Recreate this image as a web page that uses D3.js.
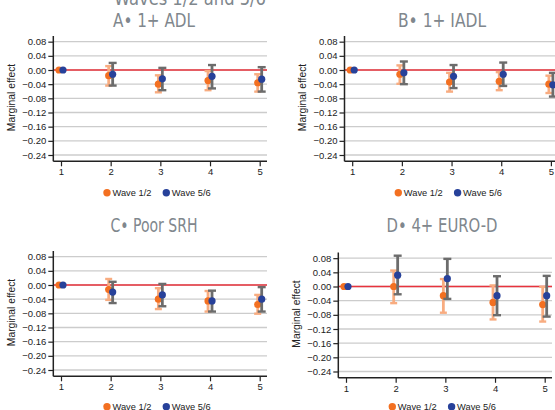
<!DOCTYPE html>
<html>
<head>
<meta charset="utf-8">
<script src="https://cdn.jsdelivr.net/npm/d3@7"></script>
<style>
  body { margin: 0; background: #ffffff; }
  svg { display: block; }
  .tick_label { font-family: "Liberation Sans", Arial, sans-serif; font-size: 9.5px; fill: #222222; }
  .panel_title { font-family: "DejaVu Sans Condensed", "DejaVu Sans", sans-serif; font-stretch: condensed; font-size: 19.5px; fill: #80878d; }
</style>
</head>
<body>
<div id="chart"></div>
<script>

// Chart values
var categories = [1, 2, 3, 4, 5];
var panelTitles = ["A\u2022 1+ ADL", "B\u2022 1+ IADL", "C\u2022 Poor SRH", "D\u2022 4+ EURO-D"];
var seriesNames = ["Wave 1/2", "Wave 5/6"];
var yTickValues = [0.08, 0.04, 0.00, -0.04, -0.08, -0.12, -0.16, -0.20, -0.24];

// Wave 1/2 estimates and confidence limits, one row per panel (A, B, C, D)
var wave12Est = [
    [0, -0.016, -0.040, -0.030, -0.036],
    [0, -0.012, -0.034, -0.032, -0.040],
    [0, -0.013, -0.040, -0.045, -0.055],
    [0,  0.000, -0.026, -0.045, -0.051]
];
var wave12Lo = [
    [null, -0.044, -0.063, -0.057, -0.061],
    [null, -0.039, -0.061, -0.057, -0.065],
    [null, -0.042, -0.068, -0.075, -0.081],
    [null, -0.047, -0.074, -0.093, -0.099]
];
var wave12Hi = [
    [null,  0.011, -0.015, -0.003, -0.012],
    [null,  0.013, -0.008, -0.006, -0.016],
    [null,  0.017, -0.009, -0.017, -0.028],
    [null,  0.045,  0.021,  0.003, -0.001]
];

// Wave 5/6 estimates and confidence limits
var wave56Est = [
    [0, -0.012, -0.025, -0.018, -0.026],
    [0, -0.008, -0.018, -0.012, -0.042],
    [0, -0.020, -0.028, -0.045, -0.040],
    [0,  0.032,  0.022, -0.026, -0.026]
];
var wave56Lo = [
    [null, -0.044, -0.057, -0.052, -0.061],
    [null, -0.040, -0.051, -0.045, -0.075],
    [null, -0.051, -0.060, -0.075, -0.075],
    [null, -0.022, -0.035, -0.081, -0.085]
];
var wave56Hi = [
    [null,  0.020,  0.006,  0.014,  0.008],
    [null,  0.024,  0.014,  0.021, -0.008],
    [null,  0.009,  0.003, -0.016, -0.006],
    [null,  0.087,  0.078,  0.029,  0.030]
];

var colors = {
    wave12: "#f37021",
    wave12bar: "#f8ac80",
    wave56: "#27419a",
    wave56bar: "#6c6c6c",
    zero: "#e8333c",
    grid: "#cccccc",
    axis: "#222222"
};

// Panel placement: left axis x, top of y axis, title centre / baseline, legend row
var panelLayout = [
    { axisX: 53.3,  top: 36,    titleX: 154, titleY: 26.7,  titleW: 82, legendX: 107,   legendY: 192.7 },
    { axisX: 344.5, top: 36,    titleX: 442, titleY: 27,    titleW: 88, legendX: 398.3, legendY: 192.7 },
    { axisX: 53.3,  top: 251,   titleX: 154, titleY: 231.7, titleW: 87, legendX: 107,   legendY: 406.7 },
    { axisX: 338.3, top: 252.5, titleX: 442, titleY: 232.3, titleW: 111, legendX: 392.3, legendY: 406.7 }
];

var width = 555, height = 410;
var plotW = 213.7, plotH = 125.3;
var xOff = 0.04;   // horizontal dodge between the two waves

var svg = d3.select("#chart").append("svg")
            .attr("width", width)
            .attr("height", height);

// Cut-off heading that sits above the panels
svg.append("text")
   .attr("class", "panel_title")
   .attr("x", 190)
   .attr("y", 5)
   .attr("text-anchor", "middle")
   .attr("textLength", 152)
   .attr("lengthAdjust", "spacingAndGlyphs")
   .text("Waves 1/2 and 5/6");

function drawPanel(p){

    var lay = panelLayout[p];
    var g = svg.append("g");

    var x = d3.scaleLinear().domain([0.845, 5.147]).range([lay.axisX, lay.axisX + plotW]);
    var y = d3.scaleLinear().domain([-0.2578, 0.096]).range([lay.top + plotH, lay.top]);

    // Title
    g.append("text")
     .attr("class", "panel_title")
     .attr("x", lay.titleX)
     .attr("y", lay.titleY)
     .attr("text-anchor", "middle")
     .attr("textLength", lay.titleW)
     .attr("lengthAdjust", "spacingAndGlyphs")
     .text(panelTitles[p]);

    // Gridlines
    g.selectAll(".grid_line")
     .data(yTickValues)
     .enter().append("line")
     .attr("class", "grid_line")
     .attr("x1", lay.axisX)
     .attr("x2", lay.axisX + plotW)
     .attr("y1", function(d){ return y(d); })
     .attr("y2", function(d){ return y(d); })
     .attr("stroke", colors.grid)
     .attr("stroke-width", 1.4);

    // Reference line at zero
    g.append("line")
     .attr("x1", lay.axisX)
     .attr("x2", lay.axisX + plotW)
     .attr("y1", y(0))
     .attr("y2", y(0))
     .attr("stroke", colors.zero)
     .attr("stroke-width", 1.4);

    // Axes
    var yAxis = d3.axisLeft(y).tickValues(yTickValues).tickFormat(d3.format(".2f")).tickSize(5).tickPadding(2);
    var xAxis = d3.axisBottom(x).tickValues(categories).tickFormat(d3.format("d")).tickSize(5).tickPadding(2);

    var yg = g.append("g").attr("transform", "translate(" + lay.axisX + ",0)").call(yAxis);
    var xg = g.append("g").attr("transform", "translate(0," + (lay.top + plotH) + ")").call(xAxis);

    [yg, xg].forEach(function(ax){
        ax.select(".domain").attr("stroke", colors.axis).attr("stroke-width", 1.5);
        ax.selectAll(".tick line").attr("stroke", colors.axis).attr("stroke-width", 1.2);
        ax.selectAll(".tick text").attr("class", "tick_label").attr("font-family", null).attr("font-size", null);
    });
    yg.select(".domain").attr("d", "M0," + (lay.top + plotH) + "V" + lay.top);
    xg.select(".domain").attr("d", "M" + lay.axisX + ",0H" + (lay.axisX + plotW));

    // Y axis label
    g.append("text")
     .attr("transform", "translate(" + (lay.axisX - 38.8) + "," + (lay.top + 61.5) + ") rotate(-90)")
     .attr("text-anchor", "middle")
     .style("font-family", "Liberation Sans, Arial, sans-serif")
     .style("font-size", "10.3px")
     .style("fill", "#222222")
     .text("Marginal effect");

    // Error bars and points for both waves
    var waves = [
        { est: wave12Est[p], lo: wave12Lo[p], hi: wave12Hi[p], dx: -xOff, bar: colors.wave12bar, dot: colors.wave12, cap: 3.5 },
        { est: wave56Est[p], lo: wave56Lo[p], hi: wave56Hi[p], dx:  xOff, bar: colors.wave56bar, dot: colors.wave56, cap: 4 }
    ];

    waves.forEach(function(w){

        var rows = categories.map(function(c, i){
            return { cx: c + w.dx, est: w.est[i], lo: w.lo[i], hi: w.hi[i] };
        });
        var withCI = rows.filter(function(d){ return d.lo !== null; });

        var bars = g.append("g");
        bars.selectAll(".ci_line")
            .data(withCI)
            .enter().append("line")
            .attr("x1", function(d){ return x(d.cx); })
            .attr("x2", function(d){ return x(d.cx); })
            .attr("y1", function(d){ return y(d.lo); })
            .attr("y2", function(d){ return y(d.hi); })
            .attr("stroke", w.bar)
            .attr("stroke-width", 2.8);
        ["lo", "hi"].forEach(function(k){
            bars.selectAll(".ci_cap_" + k)
                .data(withCI)
                .enter().append("line")
                .attr("x1", function(d){ return x(d.cx) - w.cap; })
                .attr("x2", function(d){ return x(d.cx) + w.cap; })
                .attr("y1", function(d){ return y(d[k]); })
                .attr("y2", function(d){ return y(d[k]); })
                .attr("stroke", w.bar)
                .attr("stroke-width", 2.4);
        });

        g.append("g").selectAll("circle")
         .data(rows)
         .enter().append("circle")
         .attr("cx", function(d){ return x(d.cx); })
         .attr("cy", function(d){ return y(d.est); })
         .attr("r", 3.6)
         .attr("fill", w.dot);
    });

    // Legend
    var legend = g.append("g").attr("transform", "translate(" + lay.legendX + "," + lay.legendY + ")");
    var legendItems = [
        { name: seriesNames[0], color: colors.wave12, dx: 0 },
        { name: seriesNames[1], color: colors.wave56, dx: 59.3 }
    ];
    legendItems.forEach(function(item){
        legend.append("circle")
              .attr("cx", item.dx)
              .attr("cy", 0)
              .attr("r", 3.7)
              .attr("fill", item.color);
        legend.append("text")
              .attr("x", item.dx + 5.5)
              .attr("y", 3.4)
              .style("font-family", "Liberation Sans, Arial, sans-serif")
              .style("font-size", "9.3px")
              .style("fill", "#222222")
              .text(item.name);
    });
}

for ( var p = 0; p < panelTitles.length; p++ )
    drawPanel(p);

</script>
</body>
</html>
